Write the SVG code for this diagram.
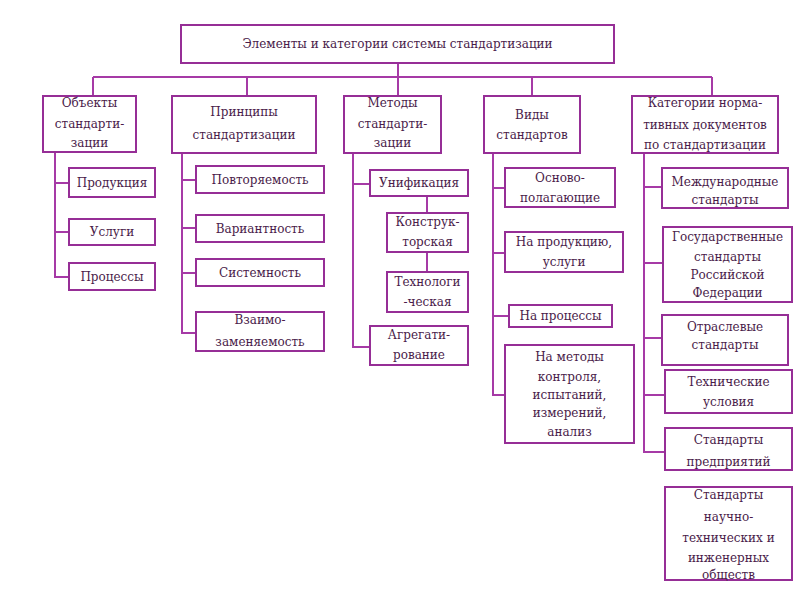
<svg xmlns="http://www.w3.org/2000/svg" width="800" height="600" viewBox="0 0 800 600">
<style>
.b{fill:#fff;stroke:#962e96;stroke-width:2}
.c{fill:none;stroke:#a63aa6;stroke-width:2}
text{font-family:'DejaVu Serif','Liberation Serif',serif;font-size:12px;fill:#4a1c4a;text-anchor:middle}
</style>
<rect width="800" height="600" fill="#fff"/>
<g id="connectors">
<path class="c" d="M398 63V77M93 77H712M93 77V96M247 77V96M398 77V96M532 77V96M712 77V96"/>
<path class="c" d="M55 153V277H69M55 183H69M55 232H69"/>
<path class="c" d="M182 153V333H196M182 180H196M182 228H196M182 273H196"/>
<path class="c" d="M353 153V347H370M353 184H370M427 196V213M427 252V272"/>
<path class="c" d="M493 153V395H505M493 188H505M493 253H505M493 316H509"/>
<path class="c" d="M644 153V452H665M644 187H662M644 263H663M644 338H662M644 395H665"/>
</g>
<g id="title"><rect class="b" x="181" y="25" width="433" height="38"/><text x="397.5" y="48">Элементы и категории системы стандартизации</text></g>
<g id="objects"><rect class="b" x="43" y="96" width="93" height="56"/><text x="89.5" y="107">Объекты</text><text x="89.5" y="128">стандарти-</text><text x="89.5" y="147">зации</text></g>
<g id="principles"><rect class="b" x="172" y="96" width="144" height="57"/><text x="244" y="116">Принципы</text><text x="244" y="139">стандартизации</text></g>
<g id="methods"><rect class="b" x="344" y="96" width="97" height="57"/><text x="392.5" y="107">Методы</text><text x="392.5" y="128">стандарти-</text><text x="392.5" y="147">зации</text></g>
<g id="types"><rect class="b" x="484" y="96" width="96" height="57"/><text x="532" y="119">Виды</text><text x="532" y="139">стандартов</text></g>
<g id="categories"><rect class="b" x="632" y="96" width="146" height="57"/><text x="705" y="107">Категории норма-</text><text x="705" y="129">тивных документов</text><text x="705" y="149">по стандартизации</text></g>
<g id="product"><rect class="b" x="69" y="168" width="86" height="29"/><text x="112" y="187">Продукция</text></g>
<g id="services"><rect class="b" x="69" y="219" width="86" height="26"/><text x="112" y="236">Услуги</text></g>
<g id="processes"><rect class="b" x="69" y="263" width="86" height="27"/><text x="112" y="281">Процессы</text></g>
<g id="repeat"><rect class="b" x="196" y="166" width="128" height="27"/><text x="260" y="184">Повторяемость</text></g>
<g id="variant"><rect class="b" x="196" y="215" width="128" height="27"/><text x="260" y="233">Вариантность</text></g>
<g id="system"><rect class="b" x="196" y="259" width="128" height="27"/><text x="260" y="277">Системность</text></g>
<g id="interchange"><rect class="b" x="196" y="312" width="128" height="39"/><text x="260" y="324">Взаимо-</text><text x="260" y="346">заменяемость</text></g>
<g id="unification"><rect class="b" x="370" y="170" width="98" height="26"/><text x="419" y="187">Унификация</text></g>
<g id="constr"><rect class="b" x="387" y="213" width="81" height="39"/><text x="427.5" y="226">Конструк-</text><text x="427.5" y="246">торская</text></g>
<g id="tech"><rect class="b" x="387" y="272" width="81" height="40"/><text x="427.5" y="286">Технологи</text><text x="427.5" y="306">-ческая</text></g>
<g id="aggreg"><rect class="b" x="370" y="326" width="98" height="39"/><text x="419" y="339">Агрегати-</text><text x="419" y="359">рование</text></g>
<g id="basic"><rect class="b" x="505" y="168" width="110" height="39"/><text x="560" y="182">Осново-</text><text x="560" y="202">полагающие</text></g>
<g id="onproduct"><rect class="b" x="505" y="232" width="118" height="40"/><text x="564" y="246">На продукцию,</text><text x="564" y="266">услуги</text></g>
<g id="onprocess"><rect class="b" x="509" y="305" width="103" height="22"/><text x="560.5" y="320">На процессы</text></g>
<g id="onmethods"><rect class="b" x="505" y="345" width="129" height="98"/><text x="569.5" y="361">На методы</text><text x="569.5" y="381">контроля,</text><text x="569.5" y="399">испытаний,</text><text x="569.5" y="417">измерений,</text><text x="569.5" y="436">анализ</text></g>
<g id="intl"><rect class="b" x="662" y="168" width="126" height="40"/><text x="725" y="186">Международные</text><text x="725" y="204">стандарты</text></g>
<g id="state"><rect class="b" x="663" y="227" width="129" height="75"/><text x="727.5" y="241">Государственные</text><text x="727.5" y="261">стандарты</text><text x="727.5" y="279">Российской</text><text x="727.5" y="297">Федерации</text></g>
<g id="branch"><rect class="b" x="662" y="315" width="126" height="50"/><text x="725" y="331">Отраслевые</text><text x="725" y="349">стандарты</text></g>
<g id="techcond"><rect class="b" x="665" y="370" width="127" height="43"/><text x="728.5" y="386">Технические</text><text x="728.5" y="406">условия</text></g>
<g id="enterprise"><rect class="b" x="665" y="428" width="127" height="42"/><text x="728.5" y="444">Стандарты</text><text x="728.5" y="466">предприятий</text></g>
<g id="societies"><rect class="b" x="665" y="487" width="127" height="93"/><text x="728.5" y="499">Стандарты</text><text x="728.5" y="521">научно-</text><text x="728.5" y="542">технических и</text><text x="728.5" y="562">инженерных</text><text x="728.5" y="579">обществ</text></g>
</svg>
